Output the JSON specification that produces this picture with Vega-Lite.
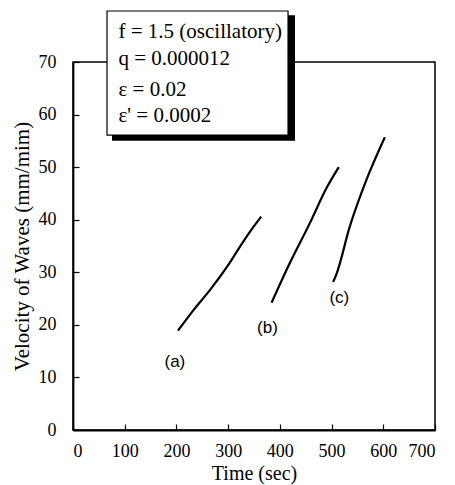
{
  "$schema": "https://vega.github.io/schema/vega-lite/v6.json",
  "width": 362,
  "height": 368,
  "autosize": {"type": "none"},
  "padding": {"left": 73, "top": 62, "right": 20, "bottom": 55},
  "background": "white",
  "view": {"stroke": "black", "strokeWidth": 1.5},
  "config": {
    "font": "Liberation Serif",
    "axis": {
      "domainColor": "black", "domainWidth": 1.8,
      "tickColor": "black", "tickWidth": 1.2, "tickSize": -6,
      "labelFont": "Liberation Serif", "labelFontSize": 18, "labelColor": "black",
      "titleFont": "Liberation Serif", "titleFontSize": 20, "titleFontWeight": "normal", "titleColor": "black",
      "grid": false
    }
  },
  "datasets": {
    "curves": [
      {"series": "a", "t": 203, "v": 18.9},
      {"series": "a", "t": 233, "v": 22.8},
      {"series": "a", "t": 265, "v": 26.65},
      {"series": "a", "t": 299, "v": 31.2},
      {"series": "a", "t": 323, "v": 34.9},
      {"series": "a", "t": 342, "v": 37.7},
      {"series": "a", "t": 364, "v": 40.6},
      {"series": "b", "t": 384, "v": 24.2},
      {"series": "b", "t": 419, "v": 31.7},
      {"series": "b", "t": 458, "v": 39.35},
      {"series": "b", "t": 489, "v": 45.8},
      {"series": "b", "t": 514, "v": 50.0},
      {"series": "c", "t": 503, "v": 28.15},
      {"series": "c", "t": 510, "v": 29.8},
      {"series": "c", "t": 535, "v": 38.65},
      {"series": "c", "t": 567, "v": 47.5},
      {"series": "c", "t": 603, "v": 55.7}
    ],
    "curveLabels": [
      {"label": "(a)", "t": 197, "v": 12.9},
      {"label": "(b)", "t": 376, "v": 19.4},
      {"label": "(c)", "t": 515, "v": 25.1}
    ],
    "box": [
      {"x1": 65.8, "x2": 415.8, "y1": 56.1, "y2": 79.7}
    ],
    "shadow": [
      {"x1": 75.4, "x2": 429.3, "y1": 55.0, "y2": 78.9}
    ],
    "boxText": [
      {"text": "f = 1.5 (oscillatory)", "t": 88, "v": 75.7},
      {"text": "q = 0.000012", "t": 88, "v": 70.6},
      {"text": "ε = 0.02", "t": 88, "v": 64.7},
      {"text": "ε' = 0.0002", "t": 88, "v": 59.7}
    ]
  },
  "layer": [
    {
      "data": {"name": "curves"},
      "mark": {"type": "line", "color": "black", "strokeWidth": 2.2, "interpolate": "monotone"},
      "encoding": {
        "x": {"field": "t", "type": "quantitative",
              "scale": {"domain": [0, 700], "nice": false},
              "axis": {"values": [0, 100, 200, 300, 400, 500, 600, 700], "title": "Time (sec)", "labelPadding": 18, "titlePadding": 3}},
        "y": {"field": "v", "type": "quantitative",
              "scale": {"domain": [0, 70], "nice": false},
              "axis": {"values": [0, 10, 20, 30, 40, 50, 60, 70], "title": "Velocity of Waves (mm/mim)", "titleFontSize": 21, "labelPadding": 23, "titlePadding": 6}},
        "detail": {"field": "series"}
      }
    },
    {
      "data": {"name": "curveLabels"},
      "mark": {"type": "text", "font": "Liberation Sans", "fontSize": 17, "color": "black"},
      "encoding": {
        "x": {"field": "t", "type": "quantitative"},
        "y": {"field": "v", "type": "quantitative"},
        "text": {"field": "label"}
      }
    },
    {
      "data": {"name": "shadow"},
      "mark": {"type": "rect", "color": "black", "clip": false},
      "encoding": {
        "x": {"field": "x1", "type": "quantitative"},
        "x2": {"field": "x2"},
        "y": {"field": "y1", "type": "quantitative"},
        "y2": {"field": "y2"}
      }
    },
    {
      "data": {"name": "box"},
      "mark": {"type": "rect", "fill": "white", "stroke": "black", "strokeWidth": 1.2, "clip": false},
      "encoding": {
        "x": {"field": "x1", "type": "quantitative"},
        "x2": {"field": "x2"},
        "y": {"field": "y1", "type": "quantitative"},
        "y2": {"field": "y2"}
      }
    },
    {
      "data": {"name": "boxText"},
      "mark": {"type": "text", "font": "Liberation Serif", "fontSize": 21, "color": "black", "align": "left", "baseline": "middle"},
      "encoding": {
        "x": {"field": "t", "type": "quantitative"},
        "y": {"field": "v", "type": "quantitative"},
        "text": {"field": "text"}
      }
    }
  ]
}
